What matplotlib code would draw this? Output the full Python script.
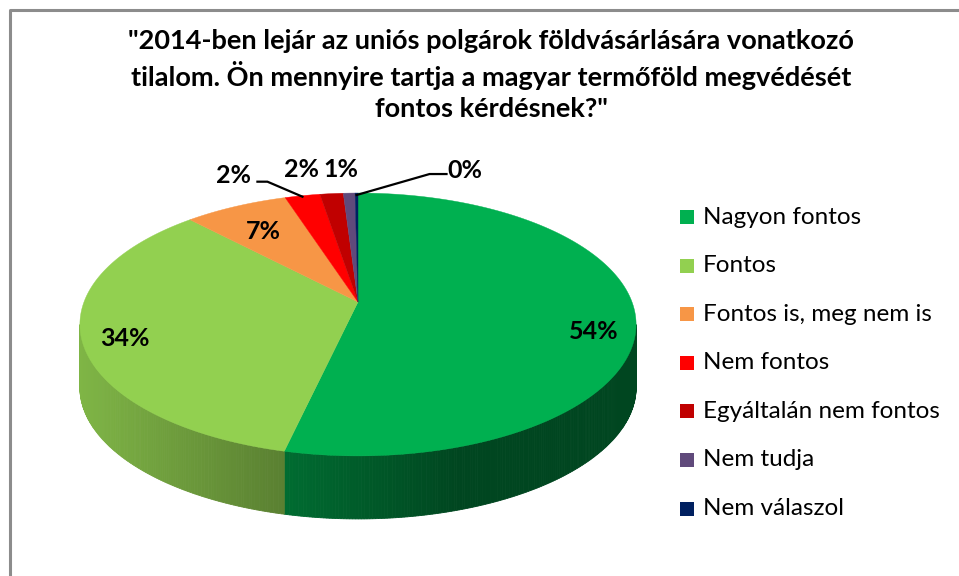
import numpy as np
import matplotlib
matplotlib.use("Agg")
import matplotlib.pyplot as plt
from matplotlib.patches import Polygon
from matplotlib.colors import to_rgb

# ---- data ----
categories = ["Nagyon fontos", "Fontos", "Fontos is, meg nem is", "Nem fontos",
              "Egyáltalán nem fontos", "Nem tudja", "Nem válaszol"]
values = [53.6, 34.3, 7.1, 2.4, 1.6, 0.8, 0.2]
colors = ["#00B050", "#92D050", "#F79646", "#FF0000", "#C00000", "#604A7B", "#002060"]
title = ('"2014-ben lejár az uniós polgárok földvásárlására vonatkozó\n'
         'tilalom. Ön mennyire tartja a magyar termőföld megvédését\n'
         'fontos kérdésnek?"')

FONT = ["Lato", "DejaVu Sans"]
W, H = 959, 576
fig = plt.figure(figsize=(W / 100, H / 100), dpi=100)
ax = fig.add_axes([0, 0, 1, 1])
ax.set_xlim(0, W)
ax.set_ylim(H, 0)
ax.axis("off")

# chart frame
ax.plot([10, 10, W + 5], [H + 5, 10, 10], color="#8C8C8C", lw=2.2, solid_capstyle="butt")

# 3D pie geometry with perspective (pixel space)
X0, Y0, A, B, K, depth = 358, 302, 274, 127.6, 0.171, 63


def pt(theta_deg, r=1.0):
    t = np.radians(theta_deg)
    u, v = r * np.sin(t), r * np.cos(t)
    w = 1 + K * v
    return X0 + A * u / w, Y0 - B * v / w


fr = np.array(values) / sum(values)
starts = np.concatenate([[0], np.cumsum(fr)[:-1]]) * 360
ends = np.cumsum(fr) * 360


def shade(x):
    return max(0.40, min(0.88, 0.87 - 0.00125 * (x - 80)))


side_lo = np.degrees(np.arccos(-K))
side_hi = 360 - side_lo

# sides
for s, e, c in zip(starts, ends, colors):
    lo, hi = max(s, side_lo), min(e, side_hi)
    if hi <= lo:
        continue
    n = max(2, int((hi - lo) / 0.5) + 1)
    th = np.linspace(lo, hi, n)
    base = np.array(to_rgb(c))
    for t0, t1 in zip(th[:-1], th[1:]):
        x0, y0 = pt(t0)
        x1, y1 = pt(t1)
        col = np.clip(base * shade((x0 + x1) / 2), 0, 1)
        ax.add_patch(Polygon([(x0, y0), (x1, y1), (x1, y1 + depth), (x0, y0 + depth)],
                             closed=True, facecolor=col, edgecolor=col, lw=0.6))

# top faces
for s, e, c in zip(starts, ends, colors):
    th = np.linspace(s, e, max(3, int(e - s) * 2 + 2))
    xs, ys = pt(th)
    poly = [(X0, Y0)] + list(zip(xs, ys))
    ax.add_patch(Polygon(poly, closed=True, facecolor=c, edgecolor=c, lw=0.3))

mids = (starts + ends) / 2
labels = [f"{round(v):.0f}%" for v in values]
lab_kw = dict(fontsize=18, fontweight="bold", family=FONT, color="black",
              ha="center", va="center")

# inside labels
for i, r, dy in [(0, 0.85, 17), (1, 0.85, 7), (2, 0.75, 4)]:
    x, y = pt(mids[i], r)
    ax.text(x, y + dy, labels[i], **lab_kw)

# outside labels for small slices
x, y = pt(mids[3])
ax.plot([x, x - 35, x - 45], [y + 1, y - 14, y - 14], color="black", lw=1.6)
ax.text(x - 69, y - 20, labels[3], **lab_kw)
x, y = pt(mids[4])
ax.text(x - 30, y - 24, labels[4], **lab_kw)
x, y = pt(mids[5])
ax.text(x - 8, y - 24, labels[5], **lab_kw)
x, y = pt(mids[6])
ax.plot([x, x + 73, x + 90], [y + 2, y - 19, y - 19], color="black", lw=1.6)
ax.text(x + 108, y - 23, labels[6], **lab_kw)

# title
ax.text(491, 75, title, ha="center", va="center", fontsize=19.5, fontweight="bold",
        family=FONT, linespacing=1.34)

# legend
ly0, dy = 217, 48.6
for i, (lab, c) in enumerate(zip(categories, colors)):
    y = ly0 + i * dy
    ax.add_patch(Polygon([(680, y - 7), (694, y - 7), (694, y + 7), (680, y + 7)],
                         closed=True, facecolor=c, edgecolor="none"))
    ax.text(703, y, lab, fontsize=17.5, family=FONT, va="center", ha="left")

fig.savefig("out.png", dpi=100)
